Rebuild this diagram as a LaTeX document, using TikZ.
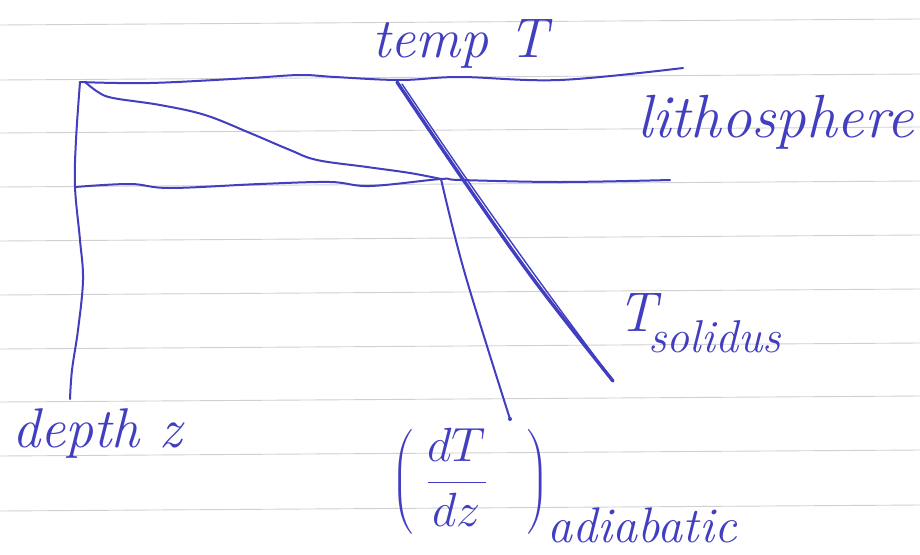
\RequirePackage{fix-cm}
\documentclass[tikz,border=0pt]{standalone}
\usepackage{amsmath}
\definecolor{inkblue}{RGB}{66,62,192}
\definecolor{paperline}{RGB}{208,208,212}
\begin{document}
\begin{tikzpicture}[x=1pt,y=-1pt,
  ink/.style={draw=inkblue, line width=2pt, line cap=round, line join=round},
  thickink/.style={draw=inkblue, line width=3.4pt, line cap=round, line join=round},
  paper/.style={draw=paperline, line width=0.9pt},
  hand/.style={text=inkblue, font=\itshape\fontsize{56}{64}\selectfont, inner sep=0pt}]
\fill[white] (0,0) rectangle (920,554);
\useasboundingbox (0,0) rectangle (920,554);
% lined paper
\foreach \yy in {25,80,133,187,241,295,349,402,456,511}
  \draw[paper] (0,\yy) -- ({920},{\yy-6});
% key points
\coordinate (origin) at (80,82);
\coordinate (topend) at (683,68);
\coordinate (lbleft) at (75,187);
\coordinate (lbend) at (670,180);
\coordinate (axisend) at (70,399);
\coordinate (base) at (441,179);
\coordinate (adend) at (510,419);
\coordinate (solstart) at (397,82);
\coordinate (solend) at (613,381);
% top line (surface)
\draw[ink] plot[smooth, tension=0.6] coordinates {(origin) (150,83) (250,78) (300,75) (335,77) (400,80) (460,77) (560,80) (topend)};
% depth axis
\draw[ink] plot[smooth, tension=0.6] coordinates {(origin) (76,140) (lbleft) (80,240) (83,280) (78,330) (72,370) (axisend)};
% base of lithosphere
\draw[ink] plot[smooth, tension=0.6] coordinates {(lbleft) (130,184) (170,188) (260,184) (330,182) (370,186) (base) (460,180) (560,182) (lbend)};
% geotherm in lithosphere
\draw[ink] plot[smooth, tension=0.6] coordinates {(85,82) (98,92) (113,98) (160,105) (205,115) (250,133) (290,150) (317,160) (367,167) (410,173) (base)};
% adiabat
\draw[ink] plot[smooth, tension=0.6] coordinates {(base) (465,274) (adend)};
\fill[inkblue] (adend) circle (2pt);
% solidus
\draw[thickink] plot[smooth, tension=0.6] coordinates {(solstart) (462,178) (534,280) (solend)};
\draw[ink, line width=1.4pt] plot[smooth, tension=0.6] coordinates {(402,84) (466,178) (537,278) (solend)};
% labels
\node[hand, anchor=base west] (temp) at (372,57) {temp T};
\node[hand, anchor=base west, font=\itshape\fontsize{61}{68}\selectfont] (litho) at (637,137) {lithosphere};
\node[hand, anchor=base west] (tsol) at (617,331) {T\kern-8pt\raisebox{-21pt}{\fontsize{46}{54}\selectfont solidus}};
\node[hand, anchor=base west] (depth) at (12,447) {depth z};
\node[hand, anchor=base west, font=\fontsize{48}{56}\selectfont] (grad) at (391,494)
  {$\left(\;\dfrac{dT}{dz}\;\;\;\right)$\kern-1pt\raisebox{-48pt}{\itshape\fontsize{50}{58}\selectfont adiabatic}};
\end{tikzpicture}
\end{document}
